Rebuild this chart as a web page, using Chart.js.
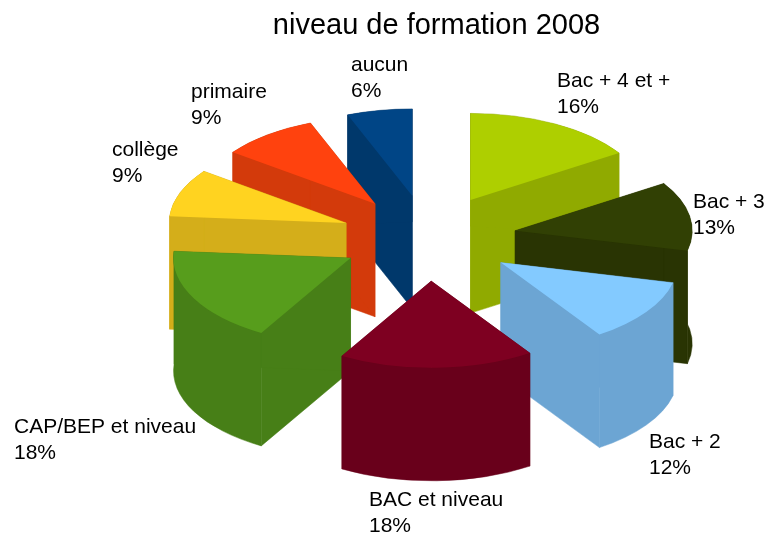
<!DOCTYPE html>
<html lang="fr">
<head>
<meta charset="utf-8">
<title>niveau de formation 2008</title>
<script src="https://cdn.jsdelivr.net/npm/chart.js@4"></script>
<style>
html,body{margin:0;padding:0;background:#fff;}
#wrap{width:767px;height:535px;}
canvas{display:block;}
</style>
</head>
<body>
<div id="wrap"><canvas id="c" width="767" height="535"></canvas></div>
<script>
const chartTitle = 'niveau de formation 2008';
const categories = ['Bac + 4 et +','Bac + 3','Bac + 2','BAC et niveau','CAP/BEP et niveau','collège','primaire','aucun'];
const values = [16,13,12,18,18,9,9,6];
const topColors = ['#aecf00','#314004','#83caff','#7e0021','#579d1c','#ffd320','#ff420e','#004586'];
const wallColors = ['#90aa00','#293403','#6ca5d3','#69001b','#477f17','#d4ae1a','#d33a0b','#00386b'];
const labelAnchors = [[557,81],[693,202],[649,442],[369,500],[14,427],[112,150],[191,92],[351,65]];

const view = {cx:428.5, cy:238, tilt:0.49, explode:88, depth:113};
const labelFont = '21px "Liberation Sans", Arial, sans-serif';
const labelLine = 26.5;

const pie3d = {
  id:'pie3d',
  beforeDatasetDraw(chart, args){
    const ctx = chart.ctx;
    const arcs = chart.getDatasetMeta(args.index).data;
    const items = arcs.map((arc,i)=>{
      const mid = (arc.startAngle+arc.endAngle)/2;
      return {arc,i,
        ax: view.cx + Math.cos(mid)*view.explode,
        ay: view.cy + Math.sin(mid)*view.explode*view.tilt};
    }).sort((a,b)=>a.ay-b.ay);
    for(const {arc,i,ax,ay} of items){
      const r = arc.outerRadius, ry = r*view.tilt, d = view.depth;
      const s = arc.startAngle, e = arc.endAngle;
      ctx.save();
      ctx.fillStyle = wallColors[i];
      ctx.strokeStyle = wallColors[i];
      ctx.lineWidth = 0.5;
      for(const a of [s,e]){
        const px = ax+Math.cos(a)*r, py = ay+Math.sin(a)*ry;
        ctx.beginPath();
        ctx.moveTo(ax,ay);ctx.lineTo(px,py);ctx.lineTo(px,py+d);ctx.lineTo(ax,ay+d);
        ctx.closePath();ctx.fill();ctx.stroke();
      }
      ctx.beginPath();
      ctx.ellipse(ax,ay,r,ry,0,s,e);
      ctx.ellipse(ax,ay+d,r,ry,0,e,s,true);
      ctx.closePath();ctx.fill();ctx.stroke();
      ctx.restore();

      ctx.save();
      ctx.translate(ax,ay);
      ctx.scale(1,view.tilt);
      ctx.translate(-arc.x,-arc.y);
      arc.draw(ctx);
      ctx.restore();
    }
    return false;
  },
  afterDatasetsDraw(chart){
    const ctx = chart.ctx;
    ctx.save();
    ctx.font = labelFont;
    ctx.fillStyle = '#000';
    ctx.textAlign = 'left';
    ctx.textBaseline = 'middle';
    categories.forEach((name,i)=>{
      const [x,y] = labelAnchors[i];
      ctx.fillText(name,x,y);
      ctx.fillText(values[i]+'%',x,y+labelLine);
    });
    ctx.restore();
  }
};

new Chart(document.getElementById('c'),{
  type:'pie',
  data:{labels:categories,datasets:[{data:values,backgroundColor:topColors,borderWidth:0,hoverOffset:0}]},
  options:{
    responsive:false,
    animation:false,
    events:[],
    radius:177,
    layout:{padding:{left:106,right:0,top:0,bottom:0}},
    plugins:{
      legend:{display:false},
      tooltip:{enabled:false},
      title:{display:true,text:chartTitle,color:'#000',
        font:{family:'"Liberation Sans", Arial, sans-serif',size:29,weight:'normal'},
        padding:{top:9,bottom:10}}
    }
  },
  plugins:[pie3d]
});
</script>
</body>
</html>
